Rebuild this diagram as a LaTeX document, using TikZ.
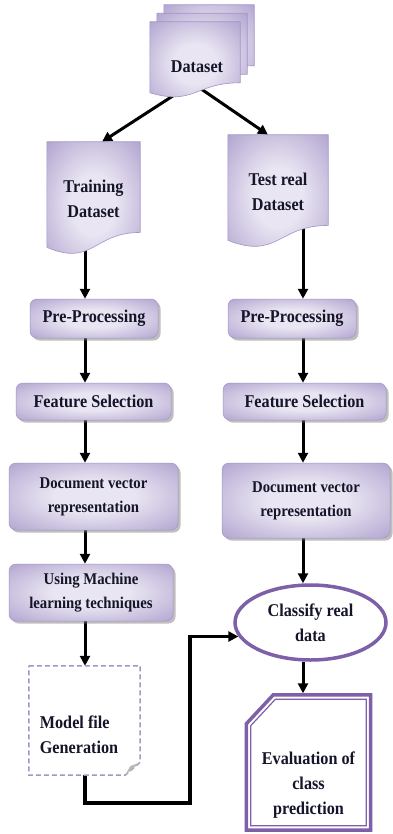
\documentclass[tikz,border=0pt]{standalone}
\usepackage{fontspec}
\setmainfont{Liberation Serif}[FakeStretch=0.9]
\usetikzlibrary{shadows,backgrounds,calc,arrows.meta,shapes.geometric}

\definecolor{lavlight}{HTML}{E9E5F2}
\definecolor{lavdark}{HTML}{9583BE}
\definecolor{lavline}{HTML}{A494C7}
\definecolor{plum}{HTML}{7D60A8}
\definecolor{ink}{HTML}{15152A}

% soft lavender glow used for the process boxes and the documents
\pgfdeclareradialshading{lavglow}{\pgfpoint{0bp}{0bp}}{%
  color(0bp)=(lavlight); color(12bp)=(lavlight); color(48bp)=(lavdark); color(80bp)=(lavdark)}

% flow-chart document: flat top, wavy bottom; #2 node, #3 width, #4 height, #5 offset
\newcommand{\docshape}[5][]{%
  \path[#1] ($(#2.north west)+#5$) -- ($(#2.north east)+#5$)
    -- ($(#2.north east)+#5+(0,0.802*#4)$)
    .. controls ($(#2.north west)+#5+(0.5*#3,0.802*#4)$)
       and ($(#2.north west)+#5+(0.5*#3,1.107*#4)$)
    .. ($(#2.north west)+#5+(0,0.934*#4)$) -- cycle;}

\tikzset{
  lbl/.style={font=\bfseries\fontsize{18}{25}\selectfont, text=ink, align=center},
  lblsm/.style={font=\bfseries\fontsize{16.4}{24}\selectfont, text=ink, align=center},
  procbox/.style={rectangle, rounded corners=7pt, inner sep=0pt, shading=lavglow,
    draw=lavline, line width=0.5pt,
    drop shadow={shadow xshift=2.5pt, shadow yshift=-2.5pt, fill=black!55, opacity=0.45}},
  docfill/.style={shading=lavglow, draw=lavline, line width=0.6pt},
  arr/.style={line width=3pt, draw=black, -{Triangle[length=10pt,width=10pt]}},
}

\begin{document}
\begin{tikzpicture}[x=1pt,y=-1pt]
\useasboundingbox (0,0) rectangle (392,834);

% columns of the vertical connectors
\coordinate (colL) at (85,0);
\coordinate (colR) at (303,0);
\coordinate (colM) at (190,0);

% --- input dataset (stack of documents)
\node[minimum width=90pt, minimum height=76pt, inner sep=0pt] (ds) at (195,60) {};
\docshape[docfill]{ds}{90}{76}{(14,-17)}
\docshape[docfill]{ds}{90}{76}{(7,-8.5)}
\docshape[docfill]{ds}{90}{76}{(0,0)}
\node[lbl] (dstext) at (197,67) {Dataset};

% --- training and test documents
\node[minimum width=93pt, minimum height=113pt, inner sep=0pt] (tr) at (93.5,198.5) {};
\docshape[docfill]{tr}{93}{113}{(0,0)}
\node[lbl] at (tr.center) {Training\\Dataset};

\node[minimum width=100pt, minimum height=113pt, inner sep=0pt] (te) at (278,191.5) {};
\docshape[docfill]{te}{100}{113}{(0,0)}
\node[lbl] at (te.center) {Test real\\Dataset};

% --- training branch
\node[procbox, lbl, minimum width=128pt, minimum height=39pt] (pp1) at (94,318.5) {Pre-Processing};
\node[procbox, lbl, minimum width=155pt, minimum height=37pt] (fs1) at (93.5,401.5) {Feature Selection};
\node[procbox, lblsm, minimum width=169pt, minimum height=67pt] (dv1) at (93.5,496.5) {Document vector\\representation};
\node[procbox, lblsm, minimum width=164pt, minimum height=57pt] (um) at (91,592.5) {Using Machine\\learning techniques};

% model file: dashed note with folded corner
\node[minimum width=111pt, minimum height=109pt, inner sep=0pt] (mf) at (84.5,720.5) {};
\path[fill=white, draw=lavline, line width=1.5pt, dash pattern=on 5pt off 3pt]
  (mf.north west) -- (mf.north east) -- ($(mf.south east)+(0,-13)$)
  -- ($(mf.south east)+(-15,0)$) -- (mf.south west) -- cycle;
\fill[gray!55] ($(mf.south east)+(0,-13)$) -- ($(mf.south east)+(-15,0)$)
  -- ($(mf.south east)+(-10,-9)$) -- cycle;
\node[lbl, align=left] (mftext) at (79,734.5) {Model file\\Generation};

% --- test branch
\node[procbox, lbl, minimum width=128pt, minimum height=39pt] (pp2) at (292,318.5) {Pre-Processing};
\node[procbox, lbl, minimum width=163pt, minimum height=37pt] (fs2) at (304.5,401.5) {Feature Selection};
\node[procbox, lblsm, minimum width=168pt, minimum height=75pt] (dv2) at (306,500.5) {Document vector\\representation};

\node[ellipse, draw=plum, line width=3.5pt, fill=white, minimum width=151pt,
  minimum height=75pt, inner sep=0pt, lbl] (cl) at (310.5,622.5) {Classify real\\data};

% evaluation: chamfered box with double purple border
\node[minimum width=124pt, minimum height=135pt, inner sep=0pt] (ev) at (308.5,762.5) {};
\path[fill=white, draw=plum, line width=3.5pt, line join=miter]
  ($(ev.north west)+(0,29)$) -- ($(ev.north west)+(27,0)$) -- (ev.north east)
  -- (ev.south east) -- (ev.south west) -- cycle;
\path[draw=plum, line width=1.2pt]
  ($(ev.north west)+(4.5,30.8)$) -- ($(ev.north west)+(29,4.5)$) -- ($(ev.north east)+(-4.5,4.5)$)
  -- ($(ev.south east)+(-4.5,-4.5)$) -- ($(ev.south west)+(4.5,-4.5)$) -- cycle;
\node[lbl] (evtext) at (308.5,785) {Evaluation of\\class\\prediction};

% --- connectors
\begin{scope}[on background layer]
  \fill[white] (0,0) rectangle (392,834);
  \draw[arr] ($(ds.south)+(-21,-3)$) -- ($(tr.north)+(8.5,0)$);
  \draw[arr] ($(ds.south)+(5,-10)$) -- ($(te.north)+(-10,0)$);

  \draw[arr] (tr.center -| colL) -- (pp1.north -| colL);
  \draw[arr] (pp1.south -| colL) -- (fs1.north -| colL);
  \draw[arr] (fs1.south -| colL) -- (dv1.north -| colL);
  \draw[arr] (dv1.south -| colL) -- (um.north -| colL);
  \draw[arr] (um.south -| colL) -- (mf.north -| colL);

  \draw[arr] (te.center -| colR) -- (pp2.north -| colR);
  \draw[arr] (pp2.south -| colR) -- (fs2.north -| colR);
  \draw[arr] (fs2.south -| colR) -- (dv2.north -| colR);
  \draw[arr] (dv2.south -| colR) -- (cl.north -| colR);
  \draw[arr, shorten >=1.5pt] (cl.south -| colR) -- (ev.north -| colR);

  \draw[arr, line width=3.5pt, line join=miter]
    (mf.south -| colL) -- ++(0,28) -| (cl.191 -| colM) -- (cl.191);
\end{scope}
\end{tikzpicture}
\end{document}
